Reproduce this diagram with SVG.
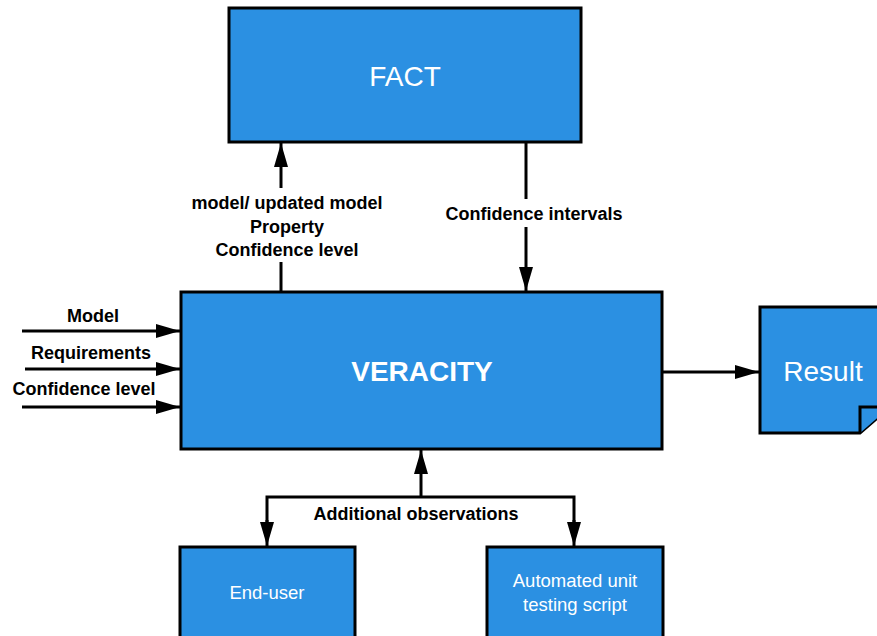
<svg xmlns="http://www.w3.org/2000/svg" width="877" height="636" viewBox="0 0 877 636">
  <defs>
    <marker id="arrow" markerWidth="24" markerHeight="14" refX="24" refY="7" orient="auto" markerUnits="userSpaceOnUse">
      <path d="M0,0 L24,7 L0,14 Z" fill="#000"/>
    </marker>
    <style>
      .box { fill: #2b90e2; stroke: #000; stroke-width: 3; }
      .edge { fill: none; stroke: #000; stroke-width: 3; }
      .lbl { font-family: "Liberation Sans", Arial, sans-serif; font-weight: bold; font-size: 18px; fill: #000; text-anchor: middle; }
      .title { font-family: "Liberation Sans", Arial, sans-serif; fill: #fff; text-anchor: middle; }
      .bg { fill: #fff; }
    </style>
  </defs>
  <rect width="877" height="636" fill="#fff"/>

  <g id="connectors">
    <!-- VERACITY to FACT -->
    <path class="edge" d="M281,292 L281,143" marker-end="url(#arrow)"/>
    <!-- FACT to VERACITY -->
    <path class="edge" d="M526,143 L526,291" marker-end="url(#arrow)"/>
    <!-- inputs -->
    <path class="edge" d="M22,331 L180,331" marker-end="url(#arrow)"/>
    <path class="edge" d="M25,369 L180,369" marker-end="url(#arrow)"/>
    <path class="edge" d="M22,407 L180,407" marker-end="url(#arrow)"/>
    <!-- output -->
    <path class="edge" d="M662,372 L759,372" marker-end="url(#arrow)"/>
    <!-- additional observations -->
    <path class="edge" d="M421,497 L421,450" marker-end="url(#arrow)"/>
    <path class="edge" d="M267,530 L267,497 L574,497 L574,530"/>
    <path class="edge" d="M267,520 L267,546" marker-end="url(#arrow)"/>
    <path class="edge" d="M574,520 L574,546" marker-end="url(#arrow)"/>

    <!-- labels -->
    <rect class="bg" x="184" y="188" width="206" height="74"/>
    <text class="lbl" x="287" y="209">model/ updated model</text>
    <text class="lbl" x="287" y="233">Property</text>
    <text class="lbl" x="287" y="256">Confidence level</text>
    <rect class="bg" x="438" y="199" width="192" height="28"/>
    <text class="lbl" x="534" y="220">Confidence intervals</text>
    <text class="lbl" x="93" y="322">Model</text>
    <text class="lbl" x="91" y="359">Requirements</text>
    <text class="lbl" x="84" y="395">Confidence level</text>
    <text class="lbl" x="416" y="520">Additional observations</text>
  </g>

  <g id="fact">
    <rect class="box" x="229" y="8" width="352" height="134"/>
    <text class="title" x="405" y="86" font-size="28">FACT</text>
  </g>

  <g id="veracity">
    <rect class="box" x="181" y="292" width="481" height="157"/>
    <text class="title" x="422" y="381" font-size="28" font-weight="bold">VERACITY</text>
  </g>

  <g id="result">
    <path class="box" d="M760,307 L890,307 L890,407 L860,433 L760,433 Z"/>
    <path class="box" d="M860,433 L860,407 L890,407"/>
    <text class="title" x="823" y="381" font-size="28">Result</text>
  </g>

  <g id="end-user">
    <rect class="box" x="180" y="547" width="175" height="95"/>
    <text class="title" x="267" y="599" font-size="18.5">End-user</text>
  </g>

  <g id="test-script">
    <rect class="box" x="487" y="547" width="176" height="95"/>
    <text class="title" x="575" y="587" font-size="18.5">Automated unit</text>
    <text class="title" x="575" y="611" font-size="18.5">testing script</text>
  </g>
</svg>
